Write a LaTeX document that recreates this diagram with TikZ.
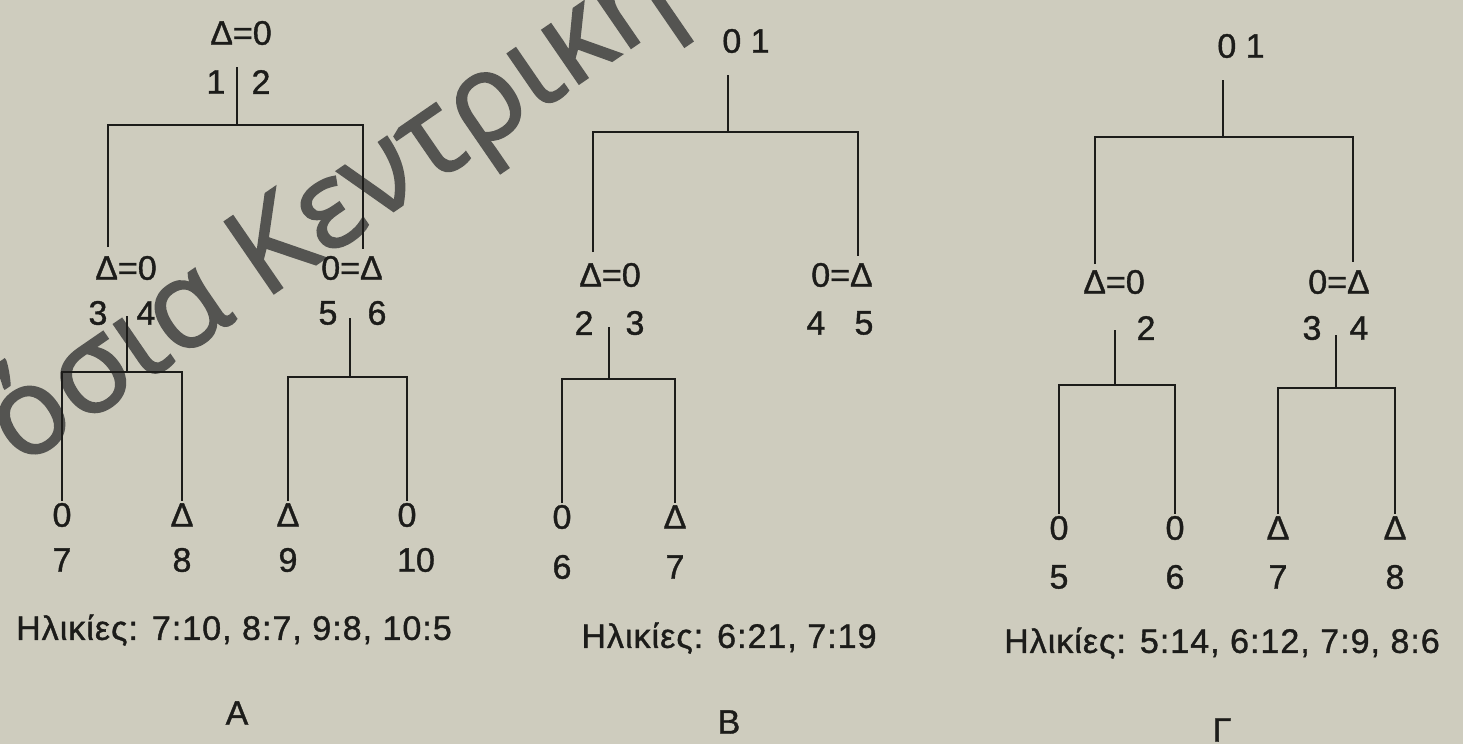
\documentclass[tikz,border=0pt]{standalone}
\usepackage{fontspec}
\setmainfont{Liberation Sans}[FakeBold=1.1]
\newfontfamily\wmfont{Open Sans}[FakeBold=1.5]
\definecolor{paper}{RGB}{206,204,190}
\definecolor{ink}{RGB}{28,28,26}
\definecolor{wmgray}{RGB}{84,84,81}
\tikzset{
  lab/.style={inner sep=0pt, text=ink, font=\fontsize{34}{38}\selectfont},
  sym/.style={lab, inner sep=2pt},
  captext/.style={inner sep=0pt, text=ink, font=\fontsize{34}{38}\selectfont\addfontfeature{LetterSpace=3}},
  edge/.style={draw=ink, line width=2.2pt},
}
\begin{document}
\begin{tikzpicture}[x=1pt,y=-1pt]
\fill[paper] (0,0) rectangle (1463,744);
\useasboundingbox (0,0) rectangle (1463,744);
\clip (0,0) rectangle (1463,744);

% ---------------- watermark (behind the drawing) ----------------
\node[inner sep=0pt, anchor=base west, rotate=34.5, text=wmgray,
      font=\wmfont\fontsize{122}{130}\selectfont] (wm) at (20,468) {όσια Κεντρική};

% ---------------- Tree A ----------------
\node[lab] (Atop) at (241,33) {Δ=0};
\node[lab] (A1) at (216,82) {1};
\node[lab] (A2) at (261,82) {2};
\coordinate (Ast) at (237,67);
\coordinate (Aj) at (237,125);
\node[sym] (AcL) at (126,268) {Δ=0};
\node[sym] (AcR) at (352,268) {0=Δ};
\coordinate (AcLt) at (108,247);
\coordinate (AcRt) at (363,249);
\node[lab] (A3) at (98,313) {3};
\node[lab] (A4) at (146,313) {4};
\node[lab] (A5) at (328,313) {5};
\node[lab] (A6) at (377,313) {6};
\coordinate (AsL) at (127,316);
\coordinate (AjL) at (127,372);
\coordinate (AsR) at (350,318);
\coordinate (AjR) at (350,377);
\node[sym] (A7s) at (62,515) {0};
\node[sym] (A8s) at (182,515) {Δ};
\node[sym] (A9s) at (288,515) {Δ};
\node[sym] (A10s) at (407,515) {0};
\node[lab] (A7) at (62,560) {7};
\node[lab] (A8) at (182,560) {8};
\node[lab] (A9) at (288,560) {9};
\node[lab] (A10) at (416,560) {10};
\node[captext] (Acap) at (234,630) {Ηλικίες: 7:10, 8:7, 9:8, 10:5};
\node[captext] (Aname) at (237,713) {A};

\draw[edge] (Ast) -- (Aj);
\draw[edge] (AcLt) |- (Aj) -| (AcRt);
\draw[edge] (AsL) -- (AjL);
\draw[edge] (A7s.north) |- (AjL) -| (A8s.north);
\draw[edge] (AsR) -- (AjR);
\draw[edge] (A9s.north) |- (AjR) -| (A10s.north);

% ---------------- Tree B ----------------
\node[lab] (Btop) at (746,41) {0 1};
\coordinate (Bst) at (728,75);
\coordinate (Bj) at (728,132);
\node[sym] (BcL) at (610,275) {Δ=0};
\node[sym] (BcR) at (842,275) {0=Δ};
\coordinate (BcLt) at (593,252);
\coordinate (BcRt) at (858,256);
\node[lab] (B2) at (584,323) {2};
\node[lab] (B3) at (635,323) {3};
\node[lab] (B4) at (816,323) {4};
\node[lab] (B5) at (864,323) {5};
\coordinate (BsL) at (609,327);
\coordinate (BjL) at (609,379);
\node[sym] (B6s) at (562,517) {0};
\node[sym] (B7s) at (675,517) {Δ};
\node[lab] (B6) at (562,567) {6};
\node[lab] (B7) at (675,567) {7};
\node[captext] (Bcap) at (729,638) {Ηλικίες: 6:21, 7:19};
\node[captext] (Bname) at (729,722) {B};

\draw[edge] (Bst) -- (Bj);
\draw[edge] (BcLt) |- (Bj) -| (BcRt);
\draw[edge] (BsL) -- (BjL);
\draw[edge] (B6s.north) |- (BjL) -| (B7s.north);

% ---------------- Tree Gamma ----------------
\node[lab] (Gtop) at (1241,46) {0 1};
\coordinate (Gst) at (1223,80);
\coordinate (Gj) at (1223,137);
\node[sym] (GcL) at (1114,282) {Δ=0};
\node[sym] (GcR) at (1339,282) {0=Δ};
\coordinate (GcLt) at (1095,264);
\coordinate (GcRt) at (1353,262);
\node[lab] (G2) at (1146,328) {2};
\node[lab] (G3) at (1312,328) {3};
\node[lab] (G4) at (1359,328) {4};
\coordinate (GsL) at (1115,330);
\coordinate (GjL) at (1115,385);
\coordinate (GsR) at (1336,335);
\coordinate (GjR) at (1336,388);
\node[sym] (G5s) at (1059,528) {0};
\node[sym] (G6s) at (1175,528) {0};
\node[sym] (G7s) at (1278,528) {Δ};
\node[sym] (G8s) at (1395,528) {Δ};
\node[lab] (G5) at (1059,577) {5};
\node[lab] (G6) at (1175,577) {6};
\node[lab] (G7) at (1278,577) {7};
\node[lab] (G8) at (1395,577) {8};
\node[captext] (Gcap) at (1222,643) {Ηλικίες: 5:14, 6:12, 7:9, 8:6};
\node[captext] (Gname) at (1222,730) {Γ};

\draw[edge] (Gst) -- (Gj);
\draw[edge] (GcLt) |- (Gj) -| (GcRt);
\draw[edge] (GsL) -- (GjL);
\draw[edge] (G5s.north) |- (GjL) -| (G6s.north);
\draw[edge] (GsR) -- (GjR);
\draw[edge] (G7s.north) |- (GjR) -| (G8s.north);
\end{tikzpicture}
\end{document}
